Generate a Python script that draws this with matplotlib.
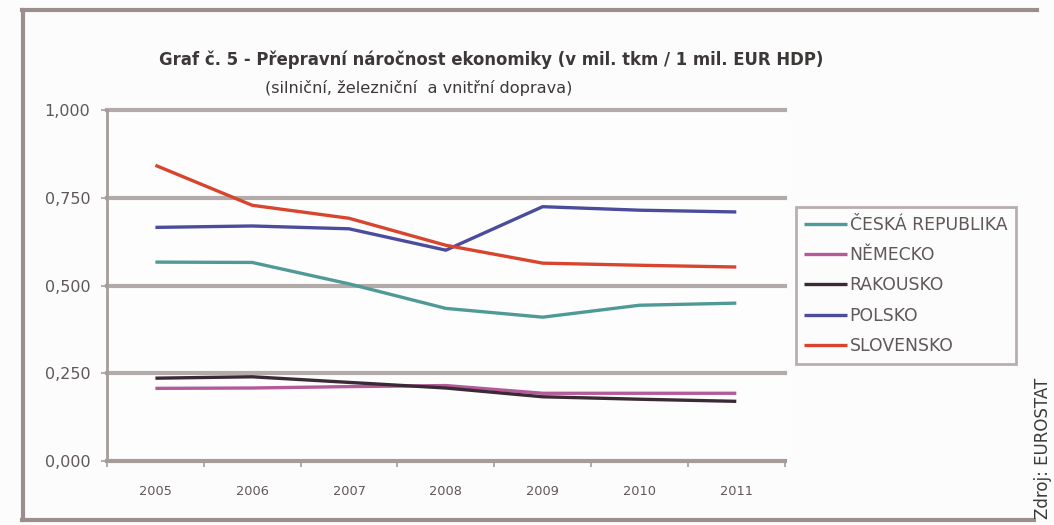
import numpy as np
import matplotlib.pyplot as plt
from matplotlib.lines import Line2D

plt.rcParams['font.family'] = ['DejaVu Sans']

years = ["2005", "2006", "2007", "2008", "2009", "2010", "2011"]
cesko = [0.567, 0.566, 0.505, 0.435, 0.410, 0.444, 0.450]
nemecko = [0.207, 0.208, 0.212, 0.215, 0.193, 0.193, 0.193]
rakousko = [0.236, 0.240, 0.224, 0.208, 0.183, 0.176, 0.170]
polsko = [0.666, 0.670, 0.662, 0.601, 0.725, 0.715, 0.710]
slovensko = [0.843, 0.729, 0.692, 0.615, 0.564, 0.558, 0.553]

series = [
    ("ČESKÁ REPUBLIKA", cesko, "#4f9a96"),
    ("NĚMECKO", nemecko, "#b45a98"),
    ("RAKOUSKO", rakousko, "#3b2a36"),
    ("POLSKO", polsko, "#4b4c9c"),
    ("SLOVENSKO", slovensko, "#d8452e"),
]

grey = "#a59c9a"
text_col = "#5f5858"

fig = plt.figure(figsize=(10.54, 5.25), dpi=100)
fig.patch.set_facecolor("#fcfcfc")

# outer frame (top, left, bottom)
fig.add_artist(Line2D([0.021, 0.984], [0.981, 0.981], color="#9a8f8d", lw=3))
fig.add_artist(Line2D([0.022, 0.022], [0.981, 0.010], color="#9a8f8d", lw=3))
fig.add_artist(Line2D([0.021, 0.981], [0.010, 0.010], color="#9a8f8d", lw=3))

ax = fig.add_axes([0.1015, 0.122, 0.643, 0.668])
ax.set_facecolor("#fdfdfd")
x = np.arange(len(years))

for name, vals, col in series:
    ax.plot(x, vals, color=col, lw=2.4, label=name, solid_capstyle="butt")

ax.set_xlim(-0.5, len(years) - 0.5)
ax.set_ylim(0, 1.0)
ax.set_yticks([0, 0.25, 0.5, 0.75, 1.0])
ax.set_yticklabels(["0,000", "0,250", "0,500", "0,750", "1,000"])
ax.set_xticks(x)
ax.set_xticklabels(years)
ax.set_xticks(np.arange(-0.5, len(years)), minor=True)
ax.tick_params(axis="x", which="major", length=0, pad=17, labelsize=9.3, labelcolor=text_col)
ax.tick_params(axis="x", which="minor", length=4, width=1.2, color=grey, direction="out")
ax.tick_params(axis="y", length=4, width=1.2, color=grey, pad=8, labelsize=11.5, labelcolor=text_col)

for g in [0.25, 0.5, 0.75, 1.0]:
    ax.axhline(g, color="#b3abaa", lw=3, zorder=0.5, clip_on=False)

for s in ["top", "right"]:
    ax.spines[s].set_visible(False)
ax.spines["left"].set_color(grey)
ax.spines["left"].set_linewidth(2)
ax.spines["bottom"].set_color(grey)
ax.spines["bottom"].set_linewidth(3)

fig.text(0.466, 0.886, "Graf č. 5 - Přepravní náročnost ekonomiky (v mil. tkm / 1 mil. EUR HDP)",
         ha="center", va="center", fontsize=11.9, fontweight="bold", color="#3d3838")
fig.text(0.397, 0.832, "(silniční, železniční  a vnitřní doprava)",
         ha="center", va="center", fontsize=11.6, color="#3d3838")

leg = fig.legend(loc="upper left", bbox_to_anchor=(0.755, 0.605), frameon=True,
                 fancybox=False, fontsize=12.4, handlelength=2.5, handletextpad=0.12,
                 labelspacing=0.71, borderpad=0.5, borderaxespad=0)
leg.get_frame().set_edgecolor(grey)
leg.get_frame().set_linewidth(2)
leg.get_frame().set_facecolor("#fdfdfd")
for t in leg.get_texts():
    t.set_color(text_col)

fig.text(0.990, 0.012, "Zdroj: EUROSTAT", rotation=90, ha="center", va="bottom",
         fontsize=12, color="#3a3a3a")

fig.savefig("out.png", dpi=100, facecolor=fig.get_facecolor())
